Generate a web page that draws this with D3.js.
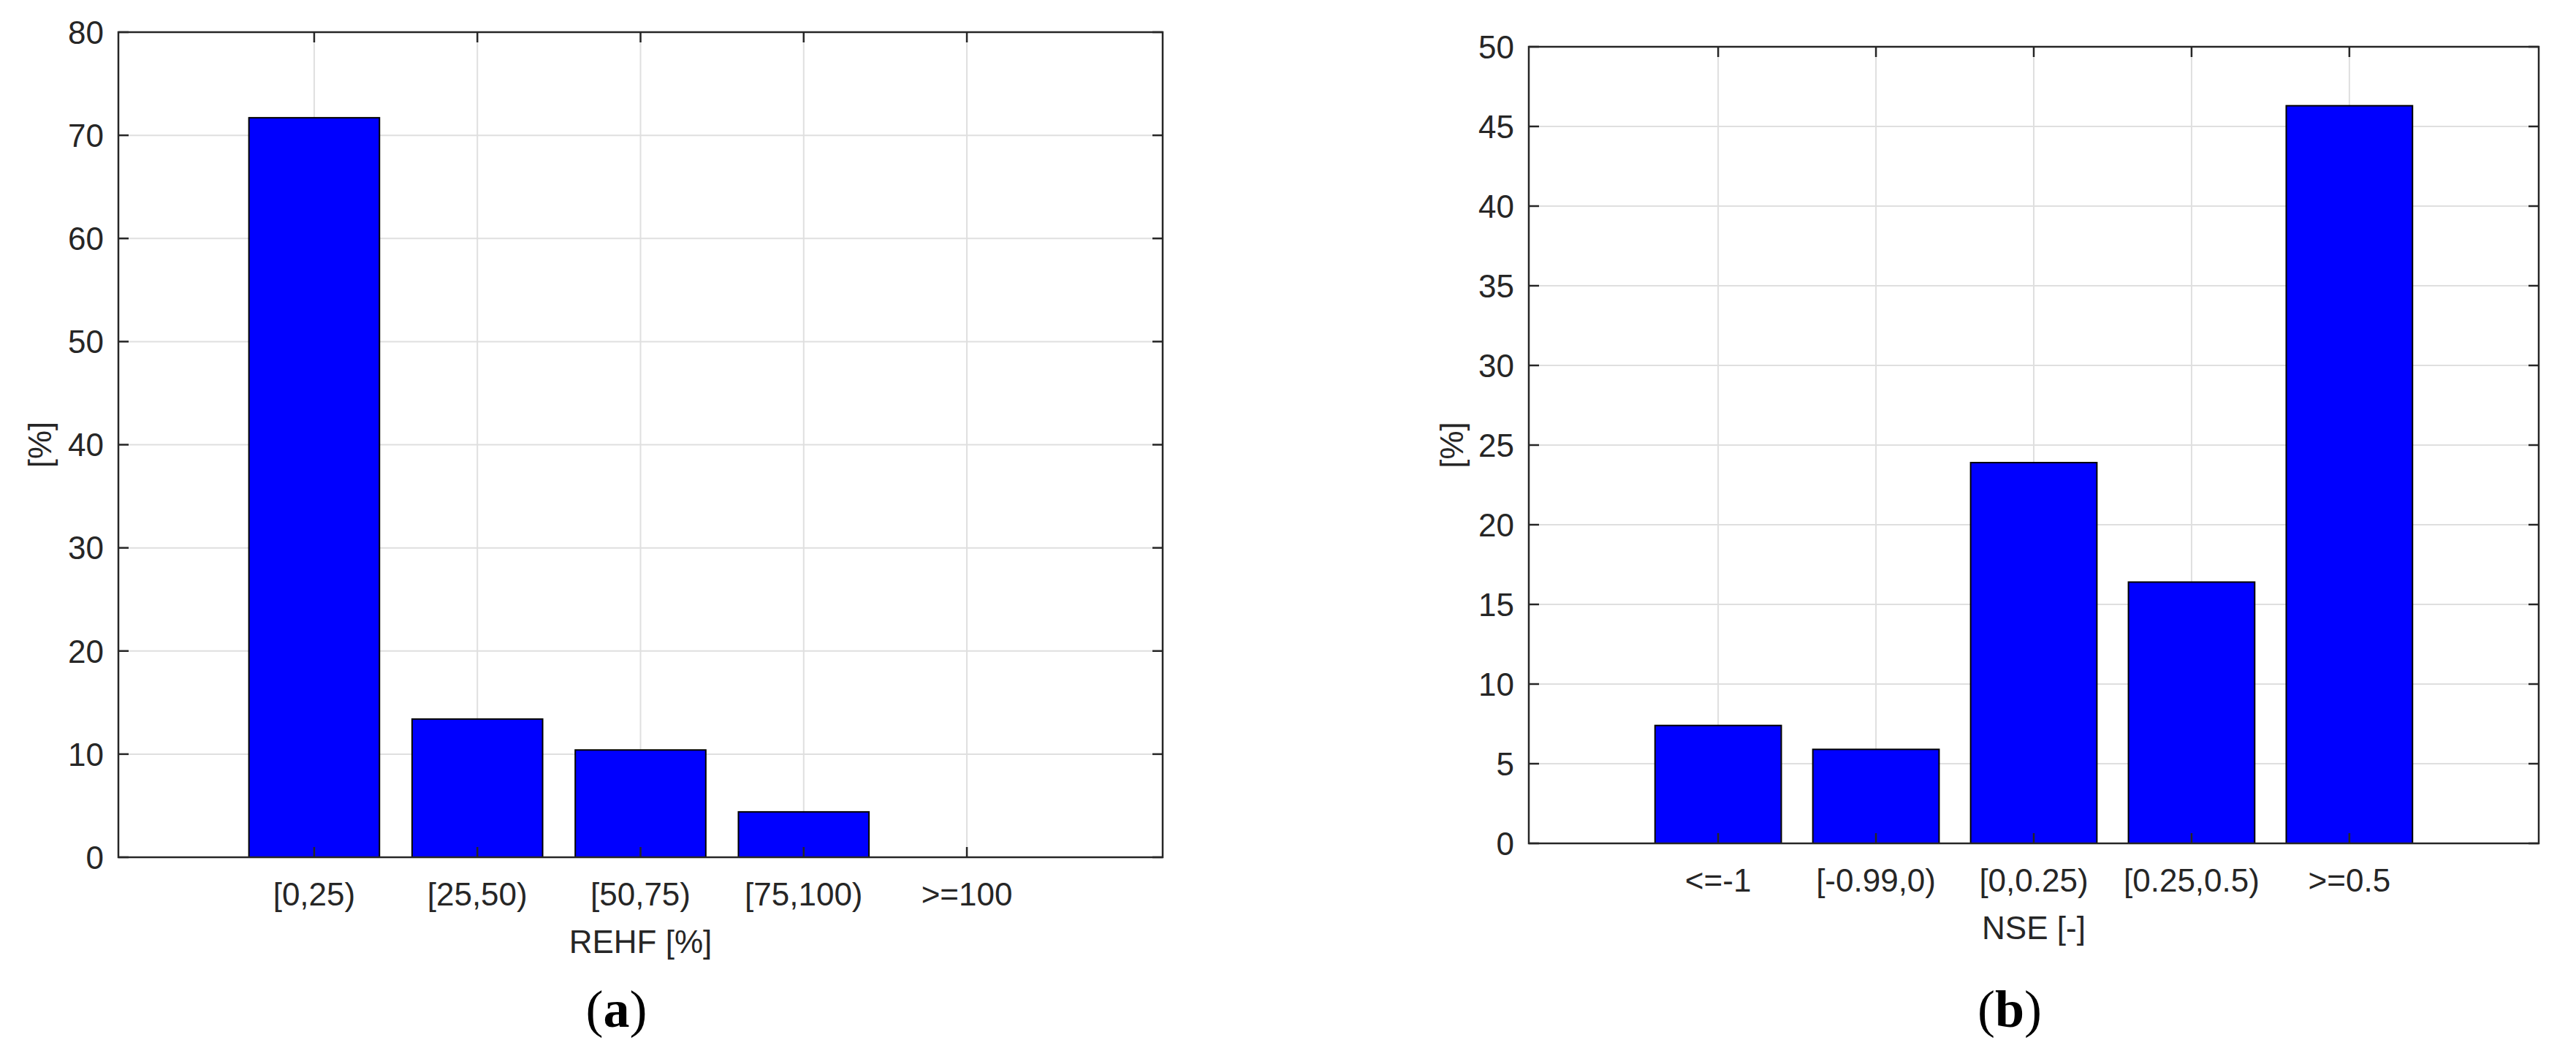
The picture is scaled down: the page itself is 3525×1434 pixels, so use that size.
<!DOCTYPE html>
<html>
<head>
<meta charset="utf-8">
<script src="https://cdn.jsdelivr.net/npm/d3@7"></script>
<style>
	body { margin: 0; background: #fff; }
	text { font-family: "Liberation Sans", Arial, sans-serif; fill: #262626; }
	.panel-tag text, text.panel-tag { font-family: "Liberation Serif", "Times New Roman", serif; fill: #000; }
</style>
</head>
<body>
<script>
// data
var catsA = ["[0,25)", "[25,50)", "[50,75)", "[75,100)", ">=100"];
var valsA = [71.7, 13.4, 10.4, 4.4, 0];
var ticksA = [0, 10, 20, 30, 40, 50, 60, 70, 80];

var catsB = ["<=-1", "[-0.99,0)", "[0,0.25)", "[0.25,0.5)", ">=0.5"];
var valsB = [7.4, 5.9, 23.9, 16.4, 46.3];
var ticksB = [0, 5, 10, 15, 20, 25, 30, 35, 40, 45, 50];

var svg = d3.select("body").append("svg")
	.attr("width", 3525)
	.attr("height", 1434);

svg.append("rect")
	.attr("width", 3525)
	.attr("height", 1434)
	.attr("fill", "#fff");

function drawPanel(opt){
	var g = svg.append("g");
	var left = opt.left, right = opt.right, top = opt.top, bottom = opt.bottom;
	var tickLen = 14;

	var x = d3.scaleBand()
	.domain(opt.cats)
	.range([left, right])
	.paddingInner(0.2)
	.paddingOuter(0.8);

	var y = d3.scaleLinear()
	.domain([0, opt.ticks[opt.ticks.length-1]])
	.range([bottom, top]);

	var center = function(d){ return x(d) + x.bandwidth()/2; };

	// grid
	var grid = g.append("g").attr("class","grid");
	grid.selectAll("line.h")
	.data(opt.ticks.slice(1, -1))
	.enter()
	.append("line")
	.attr("x1", left).attr("x2", right)
	.attr("y1", function(d){ return y(d); })
	.attr("y2", function(d){ return y(d); })
	.attr("stroke", "#dfdfdf")
	.attr("stroke-width", 2);

	grid.selectAll("line.v")
	.data(opt.cats)
	.enter()
	.append("line")
	.attr("x1", center).attr("x2", center)
	.attr("y1", top).attr("y2", bottom)
	.attr("stroke", "#dfdfdf")
	.attr("stroke-width", 2);

	// bars
	g.append("g")
	.selectAll("rect")
	.data(opt.vals)
	.enter()
	.append("rect")
	.attr("x", function(d,i){ return x(opt.cats[i]); })
	.attr("width", x.bandwidth())
	.attr("y", function(d){ return y(d); })
	.attr("height", function(d){ return y(0) - y(d); })
	.attr("fill", "#0000ff")
	.attr("stroke", "#000")
	.attr("stroke-width", 2);

	// box
	g.append("rect")
	.attr("x", left).attr("y", top)
	.attr("width", right-left).attr("height", bottom-top)
	.attr("fill", "none")
	.attr("stroke", "#262626")
	.attr("stroke-width", 2.5);

	// inward ticks on all four sides
	var ticks = g.append("g").attr("stroke", "#262626").attr("stroke-width", 2.5);
	opt.ticks.forEach(function(t){
		ticks.append("line").attr("x1", left).attr("x2", left+tickLen).attr("y1", y(t)).attr("y2", y(t));
		ticks.append("line").attr("x1", right).attr("x2", right-tickLen).attr("y1", y(t)).attr("y2", y(t));
	});
	opt.cats.forEach(function(c){
		ticks.append("line").attr("x1", center(c)).attr("x2", center(c)).attr("y1", bottom).attr("y2", bottom-tickLen);
		ticks.append("line").attr("x1", center(c)).attr("x2", center(c)).attr("y1", top).attr("y2", top+tickLen);
	});

	// tick labels
	g.append("g")
	.selectAll("text")
	.data(opt.ticks)
	.enter()
	.append("text")
	.attr("x", left-20)
	.attr("y", function(d){ return y(d); })
	.attr("dy", "0.36em")
	.attr("text-anchor", "end")
	.attr("font-size", 44)
	.text(function(d){ return d; });

	g.append("g")
	.selectAll("text")
	.data(opt.cats)
	.enter()
	.append("text")
	.attr("x", center)
	.attr("y", bottom+66)
	.attr("text-anchor", "middle")
	.attr("font-size", 44)
	.text(function(d){ return d; });

	// axis labels
	g.append("text")
	.attr("x", (left+right)/2)
	.attr("y", bottom+131)
	.attr("text-anchor", "middle")
	.attr("font-size", 44)
	.text(opt.xlabel);

	g.append("text")
	.attr("transform", "translate(" + opt.ylabelX + "," + (top+bottom)/2 + ") rotate(-90)")
	.attr("dy", "0.36em")
	.attr("text-anchor", "middle")
	.attr("font-size", 44)
	.text("[%]");

	// panel tag
	var tag = g.append("text")
	.attr("class", "panel-tag")
	.attr("x", (left+right)/2 - 33)
	.attr("y", 1405)
	.attr("text-anchor", "middle")
	.attr("font-size", 72);
	tag.append("tspan").text("(");
	tag.append("tspan").attr("font-weight", "bold").text(opt.tag);
	tag.append("tspan").text(")");
}

drawPanel({
	cats: catsA, vals: valsA, ticks: ticksA,
	left: 162, right: 1591, top: 44, bottom: 1173,
	xlabel: "REHF [%]", ylabelX: 54, tag: "a"
});

drawPanel({
	cats: catsB, vals: valsB, ticks: ticksB,
	left: 2092, right: 3474, top: 64, bottom: 1154,
	xlabel: "NSE [-]", ylabelX: 1986, tag: "b"
});
</script>
</body>
</html>
